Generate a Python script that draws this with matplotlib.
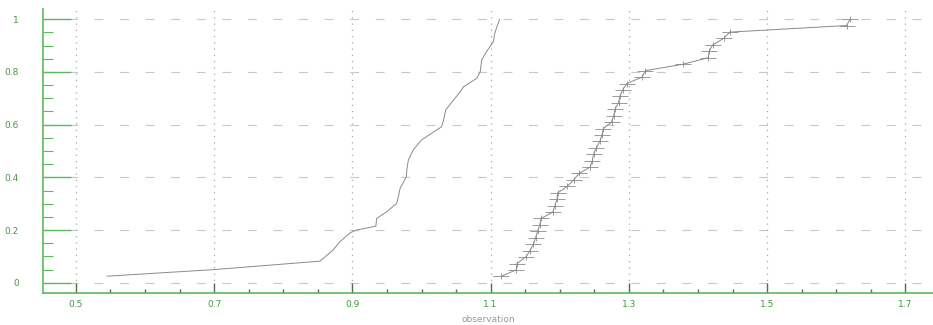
import matplotlib.pyplot as plt
from matplotlib.ticker import MultipleLocator, FixedLocator

# left curve (no markers)
left_x = [0.545, 0.700, 0.853, 0.872, 0.882, 0.897, 0.906, 0.934, 0.935, 0.950,
          0.964, 0.966, 0.969, 0.978, 0.979, 0.981, 0.988, 1.000, 1.029, 1.032,
          1.035, 1.056, 1.061, 1.080, 1.085, 1.087, 1.094, 1.104, 1.106, 1.110, 1.113]
left_y = [0.025, 0.050, 0.082, 0.124, 0.156, 0.190, 0.200, 0.215, 0.244, 0.270,
          0.301, 0.320, 0.358, 0.402, 0.434, 0.466, 0.504, 0.542, 0.592, 0.618,
          0.656, 0.725, 0.744, 0.776, 0.801, 0.845, 0.877, 0.915, 0.947, 0.978, 1.000]

# right curve (with cross markers)
right_x = [1.115, 1.137, 1.138, 1.151, 1.157, 1.162, 1.165, 1.168, 1.171, 1.173,
           1.190, 1.193, 1.196, 1.197, 1.211, 1.220, 1.228, 1.244, 1.247, 1.249,
           1.253, 1.258, 1.261, 1.263, 1.275, 1.278, 1.280, 1.285, 1.287, 1.291,
           1.297, 1.319, 1.324, 1.378, 1.415, 1.416, 1.421, 1.437, 1.446, 1.615, 1.620]
right_y = [0.024, 0.049, 0.073, 0.098, 0.122, 0.146, 0.171, 0.195, 0.220, 0.244,
           0.268, 0.293, 0.317, 0.341, 0.366, 0.390, 0.415, 0.439, 0.463, 0.488,
           0.512, 0.537, 0.561, 0.585, 0.610, 0.634, 0.659, 0.683, 0.707, 0.732,
           0.756, 0.780, 0.805, 0.829, 0.854, 0.878, 0.902, 0.927, 0.951, 0.976, 1.000]

x_ticks = [0.5, 0.7, 0.9, 1.1, 1.3, 1.5, 1.7]
x_labels = ["0.5", "0.7", "0.9", "1.1", "1.3", "1.5", "1.7"]
y_ticks = [0, 0.2, 0.4, 0.6, 0.8, 1]
y_labels = ["0", "0.2", "0.4", "0.6", "0.8", "1"]

green = "#5cb85c"
label_green = "#3f9a3f"
line_col = "#8a8a8a"

fig = plt.figure(figsize=(9.33, 3.25), dpi=100)
ax = fig.add_axes([0.0458, 0.0975, 0.9542, 0.875])

ax.plot(left_x, left_y, color=line_col, lw=0.7)
ax.plot(right_x, right_y, color=line_col, lw=0.7)
ax.plot(right_x, right_y, ls="none", marker="_", ms=12, mew=0.6, color="#8a8a8a")
ax.plot(right_x, right_y, ls="none", marker="|", ms=5, mew=0.6, color="#8a8a8a")

ax.set_xlim(0.452, 1.74)
ax.set_ylim(-0.04, 1.039)

"""grid lines"""
for yv in y_ticks:
    ax.axhline(yv, color="#c8c8c8", lw=0.8, dashes=(8, 15), zorder=0)
for xv in x_ticks:
    ax.axvline(xv, color="#a8a8a8", lw=0.9, dashes=(1, 4), zorder=0)

ax.xaxis.set_major_locator(FixedLocator(x_ticks))
ax.set_xticklabels(x_labels)
ax.xaxis.set_minor_locator(MultipleLocator(0.05))
ax.yaxis.set_major_locator(FixedLocator(y_ticks))
ax.set_yticklabels(y_labels)
ax.yaxis.set_minor_locator(MultipleLocator(0.05))

ax.tick_params(axis="x", which="major", direction="in", length=7, width=1,
               color="#4d704d", labelcolor=label_green, labelsize=6.5, pad=5)
ax.tick_params(axis="x", which="minor", direction="in", length=3, width=1,
               color="#4d704d")
ax.tick_params(axis="y", which="major", direction="in", length=20, width=1,
               color=green, labelcolor=label_green, labelsize=6.5, pad=17)
ax.tick_params(axis="y", which="minor", direction="in", length=7, width=0.8,
               color=green)

for side in ["top", "right"]:
    ax.spines[side].set_visible(False)
for side in ["left", "bottom"]:
    ax.spines[side].set_color(green)
    ax.spines[side].set_linewidth(1.2)

ax.set_xlabel("observation", color="#999999", fontsize=6.5, labelpad=4)

fig.savefig("out.png", dpi=100)
